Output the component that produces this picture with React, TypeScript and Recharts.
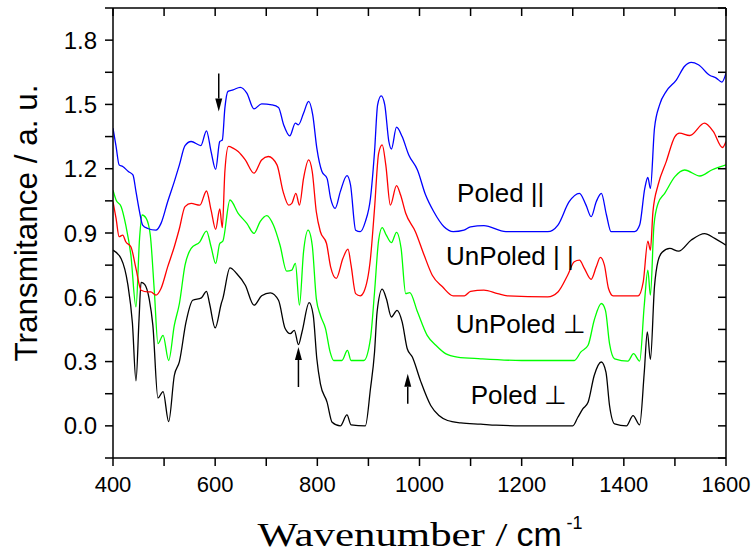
import React from "react";
import { LineChart, Line, XAxis, YAxis, ReferenceDot, Label } from "recharts";

// wavenumber (cm-1) / transmittance pairs, one pair of arrays per spectrum
const poledPerpWn = [400, 416, 429, 438, 445, 451, 455, 462, 471, 478, 488, 498, 509, 520, 530, 543, 556, 573, 583, 589, 600, 612, 615, 629, 642, 659, 676, 691, 708, 724, 737, 747, 755, 763, 770, 784, 792, 799, 806, 819, 829, 845, 858, 866, 894, 904, 912, 917, 927, 935, 945, 956, 966, 976, 986, 1002, 1022, 1038, 1055, 1081, 1120, 1150, 1200, 1300, 1310, 1320, 1330, 1342, 1356, 1365, 1372, 1382, 1405, 1418, 1431, 1440, 1446, 1452, 1460, 1467, 1475, 1490, 1507, 1532, 1558, 1578, 1600];
const poledPerpT = [0.82, 0.78, 0.66, 0.48, 0.21, 0.5, 0.67, 0.66, 0.59, 0.47, 0.13, 0.16, 0.02, 0.235, 0.3, 0.485, 0.586, 0.597, 0.628, 0.571, 0.457, 0.571, 0.594, 0.737, 0.711, 0.656, 0.563, 0.607, 0.621, 0.586, 0.454, 0.43, 0.446, 0.379, 0.438, 0.575, 0.516, 0.313, 0.196, 0.111, 0.017, 0.0, 0.051, 0.005, 0.0, 0.173, 0.345, 0.532, 0.638, 0.594, 0.508, 0.539, 0.485, 0.36, 0.321, 0.21, 0.095, 0.048, 0.025, 0.014, 0.008, 0.003, 0.0, 0.0, 0.04, 0.08, 0.11, 0.235, 0.298, 0.251, 0.095, 0.009, 0.0, 0.048, 0.005, 0.25, 0.438, 0.31, 0.65, 0.77, 0.81, 0.828, 0.815, 0.867, 0.897, 0.875, 0.843];

const unpoledPerpWn = [400, 406, 416, 425, 435, 445, 452, 457, 465, 473, 481, 488, 498, 509, 520, 530, 541, 553, 570, 583, 592, 601, 609, 615, 629, 645, 662, 676, 688, 701, 714, 727, 740, 750, 757, 765, 773, 782, 790, 798, 806, 816, 825, 832, 848, 859, 866, 891, 904, 912, 920, 927, 935, 945, 955, 964, 973, 981, 996, 1015, 1032, 1051, 1074, 1120, 1200, 1303, 1316, 1330, 1342, 1356, 1364, 1372, 1382, 1408, 1419, 1431, 1440, 1447, 1452, 1459, 1467, 1480, 1500, 1519, 1549, 1572, 1600];
const unpoledPerpT = [1.1, 1.054, 1.023, 0.937, 0.797, 0.555, 0.875, 0.984, 0.968, 0.89, 0.625, 0.384, 0.422, 0.305, 0.469, 0.571, 0.75, 0.828, 0.859, 0.909, 0.836, 0.758, 0.851, 0.862, 1.054, 0.992, 0.945, 0.898, 0.953, 0.981, 0.937, 0.843, 0.722, 0.727, 0.758, 0.563, 0.812, 0.913, 0.843, 0.594, 0.516, 0.454, 0.345, 0.305, 0.305, 0.352, 0.305, 0.305, 0.407, 0.625, 0.867, 0.925, 0.89, 0.855, 0.903, 0.828, 0.617, 0.622, 0.532, 0.422, 0.376, 0.337, 0.321, 0.313, 0.305, 0.305, 0.345, 0.376, 0.493, 0.571, 0.539, 0.384, 0.313, 0.302, 0.337, 0.302, 0.563, 0.727, 0.61, 0.937, 1.038, 1.085, 1.163, 1.194, 1.166, 1.194, 1.218];

const unpoledParWn = [400, 406, 412, 419, 425, 435, 445, 455, 468, 474, 484, 494, 507, 520, 530, 541, 553, 570, 583, 592, 601, 609, 614, 619, 626, 635, 645, 659, 676, 691, 704, 721, 733, 744, 750, 758, 765, 773, 783, 790, 798, 806, 818, 826, 837, 850, 860, 866, 875, 884, 891, 904, 912, 920, 927, 934, 943, 955, 963, 973, 992, 1009, 1025, 1045, 1066, 1088, 1100, 1126, 1153, 1172, 1251, 1271, 1290, 1303, 1313, 1323, 1336, 1346, 1354, 1362, 1370, 1379, 1428, 1438, 1447, 1452, 1457, 1467, 1483, 1500, 1509, 1529, 1558, 1575, 1593, 1600];
const unpoledParT = [1.046, 0.968, 0.883, 0.89, 0.859, 0.836, 0.734, 0.633, 0.625, 0.625, 0.61, 0.641, 0.742, 0.836, 0.921, 1.023, 1.038, 1.03, 1.096, 1.007, 0.917, 1.012, 0.925, 1.187, 1.304, 1.296, 1.28, 1.241, 1.179, 1.241, 1.257, 1.218, 1.093, 1.03, 1.038, 1.085, 1.03, 1.155, 1.241, 1.187, 0.999, 0.906, 0.851, 0.742, 0.688, 0.781, 0.825, 0.75, 0.617, 0.607, 0.625, 0.781, 1.015, 1.272, 1.311, 1.218, 1.03, 1.121, 1.077, 0.992, 0.906, 0.797, 0.703, 0.649, 0.607, 0.607, 0.628, 0.633, 0.617, 0.607, 0.602, 0.625, 0.703, 0.766, 0.773, 0.734, 0.684, 0.742, 0.786, 0.75, 0.641, 0.607, 0.607, 0.672, 0.862, 0.82, 1.0, 1.124, 1.233, 1.35, 1.366, 1.355, 1.413, 1.374, 1.299, 1.327];

const poledParWn = [400, 406, 412, 419, 430, 439, 445, 452, 458, 468, 484, 494, 507, 520, 530, 541, 553, 572, 583, 592, 601, 609, 614, 619, 625, 635, 649, 662, 676, 691, 711, 724, 734, 746, 757, 763, 773, 783, 791, 799, 809, 819, 826, 835, 845, 858, 865, 875, 884, 894, 904, 912, 918, 925, 932, 940, 945, 955, 966, 979, 996, 1012, 1028, 1048, 1066, 1087, 1100, 1126, 1169, 1251, 1271, 1293, 1313, 1326, 1336, 1346, 1356, 1366, 1375, 1421, 1431, 1441, 1447, 1452, 1460, 1470, 1483, 1503, 1519, 1532, 1546, 1568, 1581, 1592, 1600];
const poledParT = [1.389, 1.304, 1.218, 1.21, 1.187, 1.171, 1.093, 0.999, 0.937, 0.921, 0.913, 0.945, 1.046, 1.14, 1.218, 1.308, 1.327, 1.308, 1.377, 1.28, 1.197, 1.327, 1.334, 1.483, 1.561, 1.568, 1.58, 1.553, 1.479, 1.503, 1.498, 1.486, 1.405, 1.353, 1.413, 1.405, 1.459, 1.514, 1.451, 1.296, 1.187, 1.155, 1.062, 1.015, 1.093, 1.168, 1.124, 0.913, 0.906, 0.953, 1.062, 1.28, 1.498, 1.54, 1.498, 1.327, 1.292, 1.394, 1.35, 1.264, 1.194, 1.077, 0.999, 0.929, 0.906, 0.913, 0.929, 0.934, 0.906, 0.906, 0.937, 1.046, 1.085, 1.03, 0.976, 1.046, 1.085, 0.984, 0.906, 0.906, 0.937, 1.108, 1.159, 1.108, 1.389, 1.498, 1.561, 1.615, 1.678, 1.696, 1.685, 1.636, 1.623, 1.604, 1.646];

const xTicks = [400, 500, 600, 700, 800, 900, 1000, 1100, 1200, 1300, 1400, 1500, 1600];
const yTicks = [-0.15, 0, 0.15, 0.3, 0.45, 0.6, 0.75, 0.9, 1.05, 1.2, 1.35, 1.5, 1.65, 1.8, 1.95];

const curveLabels = [
  { text: "Poled ||", wn: 1159, t: 1.043 },
  { text: "UnPoled | |", wn: 1177, t: 0.75 },
  { text: "UnPoled \u22A5", wn: 1198, t: 0.434 },
  { text: "Poled \u22A5", wn: 1195, t: 0.103 },
];

const arrowMarks = [
  { wn: 607, t: 1.467, dir: "down", len: 38 },
  { wn: 763, t: 0.368, dir: "up", len: 40 },
  { wn: 977, t: 0.243, dir: "up", len: 30 },
];

const toPoints = (wn: number[], t: number[]) => wn.map((x, i) => ({ wn: x, t: t[i] }));

const series = [
  { name: "Poled \u22A5", data: toPoints(poledPerpWn, poledPerpT), color: "#000000" },
  { name: "UnPoled \u22A5", data: toPoints(unpoledPerpWn, unpoledPerpT), color: "#00ff00" },
  { name: "UnPoled ||", data: toPoints(unpoledParWn, unpoledParT), color: "#ff0000" },
  { name: "Poled ||", data: toPoints(poledParWn, poledParT), color: "#0000ff" },
];

const sans = "'Liberation Sans', Arial, sans-serif";
const serif = "'Liberation Serif', 'Times New Roman', serif";

const XTitle = (props: any) => {
  const { x, y, width } = props.viewBox;
  const cx = x + width / 2;
  const base = y + 88;
  return (
    <g>
      <text x={cx - 162} y={base} fontFamily={serif} fontSize={34} fill="#000" textLength={250} lengthAdjust="spacingAndGlyphs">
        Wavenumber /
      </text>
      <text x={cx + 97} y={base} fontFamily={sans} fontSize={34} fill="#000">
        cm
      </text>
      <text x={cx + 147} y={base - 17} fontFamily={sans} fontSize={18} fill="#000">
        -1
      </text>
    </g>
  );
};

const YTitle = () => (
  <text x={36.5} y={223} transform="rotate(-90, 36.5, 223)" textAnchor="middle" fontFamily={sans} fontSize={31.5} fill="#000">
    Transmitance / a. u.
  </text>
);

const App = () => (
  <div style={{ position: "absolute", left: 0, top: 0, width: 755, height: 553, background: "#fff" }}>
    <LineChart width={755} height={553} margin={{ top: 8, right: 29, bottom: 55, left: 13 }}>
      <XAxis
        dataKey="wn"
        type="number"
        domain={[400, 1600]}
        allowDataOverflow
        ticks={xTicks}
        tickFormatter={(v) => (v % 200 === 0 ? String(v) : "")}
        height={40}
        tickSize={8}
        tickMargin={10}
        stroke="#000"
        strokeWidth={1.5}
        tick={{ fontSize: 22, fill: "#000", fontFamily: sans }}
      >
        <Label content={XTitle} />
      </XAxis>
      <XAxis
        xAxisId="top"
        dataKey="wn"
        orientation="top"
        type="number"
        domain={[400, 1600]}
        allowDataOverflow
        ticks={xTicks}
        tickFormatter={() => ""}
        mirror
        height={1}
        tickSize={8}
        stroke="#000"
        strokeWidth={1.5}
      />
      <YAxis
        type="number"
        domain={[-0.15, 1.95]}
        allowDataOverflow
        ticks={yTicks}
        tickFormatter={(v) => (Math.abs(Math.round(v / 0.15)) % 2 === 0 ? v.toFixed(1) : "")}
        width={100}
        tickSize={8}
        tickMargin={8}
        stroke="#000"
        strokeWidth={1.5}
        tick={{ fontSize: 24, fill: "#000", fontFamily: sans }}
      >
        <Label content={YTitle} />
      </YAxis>
      <YAxis
        yAxisId="right"
        orientation="right"
        type="number"
        domain={[-0.15, 1.95]}
        allowDataOverflow
        ticks={yTicks}
        tickFormatter={() => ""}
        mirror
        width={1}
        tickSize={8}
        stroke="#000"
        strokeWidth={1.5}
      />
      {series.map((s) => (
        <Line
          key={s.name}
          data={s.data}
          dataKey="t"
          type="monotone"
          stroke={s.color}
          strokeWidth={1.3}
          dot={false}
          isAnimationActive={false}
        />
      ))}
      {/* invisible copy bound to the mirrored frame axes so that they get drawn */}
      <Line
        xAxisId="top"
        yAxisId="right"
        data={series[0].data}
        dataKey="t"
        stroke="none"
        dot={false}
        activeDot={false}
        isAnimationActive={false}
      />
      {curveLabels.map((c) => (
        <ReferenceDot
          key={c.text}
          x={c.wn}
          y={c.t}
          r={0}
          shape={(p: any) => (
            <text x={p.cx} y={p.cy} textAnchor="middle" fontFamily={sans} fontSize={26} fill="#000">
              {c.text}
            </text>
          )}
        />
      ))}
      {arrowMarks.map((a) => (
        <ReferenceDot
          key={a.wn}
          x={a.wn}
          y={a.t}
          r={0}
          shape={(p: any) => {
            const s = a.dir === "down" ? -1 : 1;
            const head = 13;
            return (
              <g>
                <line x1={p.cx} y1={p.cy + s * head} x2={p.cx} y2={p.cy + s * a.len} stroke="#000" strokeWidth={1.5} />
                <polygon
                  points={`${p.cx},${p.cy} ${p.cx - 3.5},${p.cy + s * head} ${p.cx + 3.5},${p.cy + s * head}`}
                  fill="#000"
                />
              </g>
            );
          }}
        />
      ))}
    </LineChart>
  </div>
);

export default App;
